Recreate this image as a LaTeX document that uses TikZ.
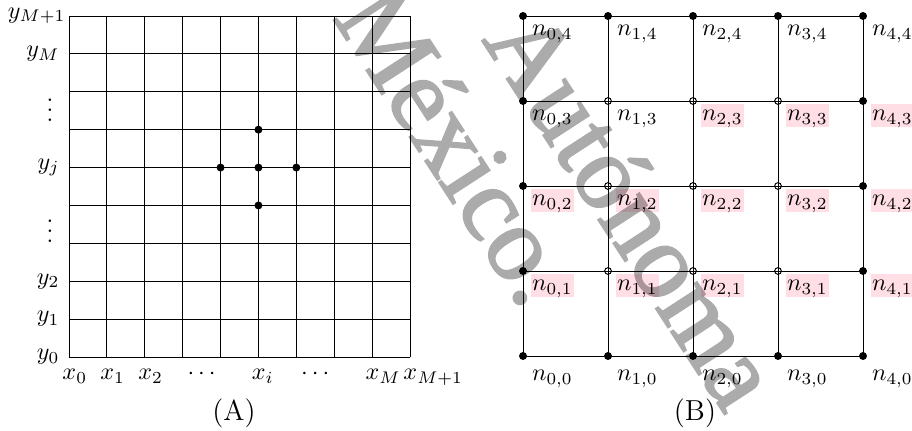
\documentclass[tikz,border=0pt]{standalone}
\usepackage{fontspec}
\newfontfamily\wmfont{Liberation Serif}[FakeBold=2]
\definecolor{hlpink}{RGB}{255,222,230}
\begin{document}
\begin{tikzpicture}[x=0.415pt,y=-0.415pt,
  gridline/.style={line width=0.4pt},
  fdot/.style={circle,fill=black,inner sep=0pt,minimum size=3.3pt},
  odot/.style={circle,draw=black,fill=none,line width=0.4pt,inner sep=0pt,minimum size=2.8pt},
  nlab/.style={anchor=north west,inner xsep=0.5pt,inner ysep=0pt,text height=7pt,text depth=2.4pt,xshift=3.1pt,yshift=-1.08pt},
  pinklab/.style={nlab,fill=hlpink},
  ylab/.style={anchor=east,inner sep=0pt},
  xlab/.style={anchor=base west,inner sep=0pt},
  caption/.style={inner sep=0pt,font=\large},
  wmark/.style={rotate=-57,inner sep=0pt,text=black,font=\fontsize{44}{44}\wmfont}]
\useasboundingbox (0,0) rectangle (912,431);
% ---------------- Panel A ----------------
\foreach \k in {0,...,9}{
  \coordinate (at\k) at (69+37.889*\k,16);
  \coordinate (ab\k) at (69+37.889*\k,357);
  \coordinate (al\k) at (69,16+37.889*\k);
  \coordinate (ar\k) at (410,16+37.889*\k);
  \draw[gridline] (at\k) -- (ab\k);
  \draw[gridline] (al\k) -- (ar\k);
}
\node[fdot] (dc) at (69+37.889*5,16+37.889*4) {};
\node[fdot] (du) at (69+37.889*5,16+37.889*3) {};
\node[fdot] (dd) at (69+37.889*5,16+37.889*5) {};
\node[fdot] (dl) at (69+37.889*4,16+37.889*4) {};
\node[fdot] (dr) at (69+37.889*6,16+37.889*4) {};
% y labels
\node[ylab] (yM1) at (66,16) {$y_{M+1}$};
\node[ylab] (yM) at (60,16+37.889) {$y_M$};
\node[inner sep=0pt] (vd1) at (50,103) {$\vdots$};
\node[ylab] (yj) at (60,16+37.889*4) {$y_j$};
\node[inner sep=0pt] (vd2) at (50,224) {$\vdots$};
\node[ylab] (y2) at (60,16+37.889*7) {$y_2$};
\node[ylab] (y1) at (60,16+37.889*8) {$y_1$};
\node[ylab] (y0) at (60,357) {$y_0$};
% x labels
\node[xlab] (x0) at (62,380) {$x_0$};
\node[xlab] (x1) at (62+37.889,380) {$x_1$};
\node[xlab] (x2) at (62+37.889*2,380) {$x_2$};
\node[anchor=base,inner sep=0pt] (xd1) at (69+37.889*3.5,380) {$\cdots$};
\node[xlab] (xi) at (62+37.889*5,380) {$x_i$};
\node[anchor=base,inner sep=0pt] (xd2) at (69+37.889*6.5,380) {$\cdots$};
\node[xlab] (xM) at (62+37.889*8,380) {$x_M$};
\node[xlab] (xM1) at (62+37.889*9,380) {$x_{M+1}$};
\node[caption] (capA) at (234,413) {(A)};
% ---------------- Panel B ----------------
\foreach \i in {0,...,4}{
  \foreach \j in {0,...,4}{
    \coordinate (n\i\j) at (523+85*\i,356-85*\j);
  }
}
\foreach \i in {0,...,4}{
  \draw[gridline] (n\i0) -- (n\i4);
  \draw[gridline] (n0\i) -- (n4\i);
}
% boundary nodes
\foreach \i in {0,...,4}{
  \node[fdot] (b\i0) at (n\i0) {};
  \node[fdot] (b\i4) at (n\i4) {};
}
\foreach \j in {1,2,3}{
  \node[fdot] (b0\j) at (n0\j) {};
  \node[fdot] (b4\j) at (n4\j) {};
  \foreach \i in {1,2,3}{
    \node[odot] (b\i\j) at (n\i\j) {};
  }
}
% labels
\foreach \i in {0,...,4}{
  \node[nlab] (l\i4) at (n\i4) {$n_{\i,4}$};
  \node[nlab,yshift=-1.9pt] (l\i0) at (n\i0) {$n_{\i,0}$};
  \node[pinklab] (l\i2) at (n\i2) {$n_{\i,2}$};
  \node[pinklab] (l\i1) at (n\i1) {$n_{\i,1}$};
}
\node[nlab] (l03) at (n03) {$n_{0,3}$};
\node[nlab] (l13) at (n13) {$n_{1,3}$};
\node[pinklab] (l23) at (n23) {$n_{2,3}$};
\node[pinklab] (l33) at (n33) {$n_{3,3}$};
\node[pinklab] (l43) at (n43) {$n_{4,3}$};
\node[caption] (capB) at (695,413) {(B)};
% ---------------- watermark ----------------
\begin{scope}[transparency group,opacity=0.33]
\node[wmark] (wm1) at (458,145) {México.};
\node[wmark] (wm2) at (634,208) {Autónoma};
\end{scope}
\end{tikzpicture}
\end{document}
